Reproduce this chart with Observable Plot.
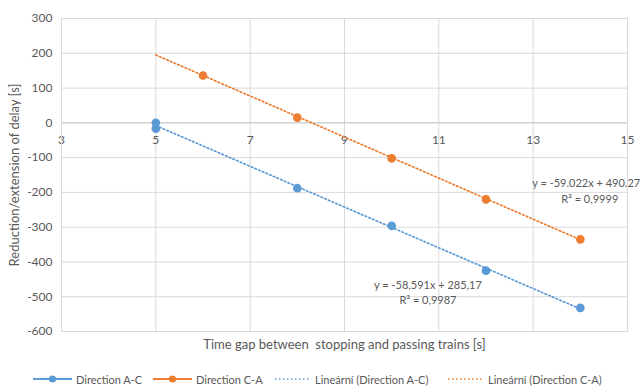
<!DOCTYPE html>
<html><head><meta charset="utf-8">
<script src="https://cdn.jsdelivr.net/npm/d3@7"></script>
<script src="https://cdn.jsdelivr.net/npm/@observablehq/plot@0.6"></script>
<style>
body{margin:0;background:#fff;font-family:Lato,"Open Sans",sans-serif;color:#595959;}
#wrap{position:relative;width:641px;height:387px;overflow:hidden;}
#chart svg{display:block;}
.li{position:absolute;top:371px;height:16px;display:flex;align-items:center;font-size:11px;white-space:nowrap;}
.li svg{margin-right:4px;}
</style></head><body>
<div id="wrap"><div id="chart"></div><div id="legend"></div></div>
<script>
// Data
const acX = [5, 5, 8, 10, 12, 14];
const acY = [0, -17, -188, -296, -425, -532];
const caX = [6, 8, 10, 12, 14];
const caY = [136, 15, -102, -220, -335];
const seriesNames = ["Direction A-C", "Direction C-A"];
const trendNames = ["Lineární (Direction A-C)", "Lineární (Direction C-A)"];
const trendSlope = [-58.591, -59.022];
const trendIntercept = [285.17, 490.27];
const trendFrom = [5, 5];
const trendTo = [14, 14];
const eqLabels = ["y = -58,591x + 285,17", "y = -59.022x + 490.27"];
const r2Labels = ["R² = 0,9987", "R² = 0,9999"];
const xTicks = [3, 5, 7, 9, 11, 13, 15];
const yTicks = [-600, -500, -400, -300, -200, -100, 0, 100, 200, 300];
const xTitle = "Time gap between  stopping and passing trains [s]";
const yTitle = "Reduction/extension of delay [s]";

const colors = ["#5b9bd5", "#ed7d31"];
const grid = "#d9d9d9";
const txt = "#595959";

const ac = acX.map((x, i) => ({x, y: acY[i]}));
const ca = caX.map((x, i) => ({x, y: caY[i]}));
const trendA = [trendFrom[0], trendTo[0]].map(x => ({x, y: trendSlope[0] * x + trendIntercept[0]}));
const trendC = [trendFrom[1], trendTo[1]].map(x => ({x, y: trendSlope[1] * x + trendIntercept[1]}));

const chart = Plot.plot({
  width: 641,
  height: 362,
  marginLeft: 61,
  marginRight: 14,
  marginTop: 18,
  marginBottom: 31,
  style: {fontFamily: "Lato, 'Open Sans', sans-serif", color: txt, background: "#fff"},
  x: {domain: [3, 15], axis: null},
  y: {domain: [-600, 300], axis: null},
  marks: [
    Plot.ruleX(xTicks, {stroke: grid, strokeWidth: 1}),
    Plot.ruleY(yTicks, {stroke: grid, strokeWidth: 1}),
    Plot.ruleY([0], {stroke: "#c8c8c8", strokeWidth: 1}),
    Plot.axisY({ticks: yTicks, tickSize: 0, tickPadding: 9, fontSize: 12, fill: txt, label: null, tickFormat: d => String(d)}),
    Plot.text(xTicks, {x: d => d, y: () => 0, dy: 17, text: d => String(d), fontSize: 12, fill: txt}),
    Plot.line(trendA, {x: "x", y: "y", stroke: colors[0], strokeWidth: 1.7, strokeDasharray: "1.5 2.5"}),
    Plot.line(trendC, {x: "x", y: "y", stroke: colors[1], strokeWidth: 1.7, strokeDasharray: "1.5 2.5"}),
    Plot.dot(ac, {x: "x", y: "y", r: 3.6, fill: colors[0], stroke: colors[0]}),
    Plot.dot(ca, {x: "x", y: "y", r: 3.6, fill: colors[1], stroke: colors[1]}),
    Plot.text([eqLabels[0]], {x: () => 10.77, y: () => -469, text: d => d, fontSize: 11, fill: txt}),
    Plot.text([r2Labels[0]], {x: () => 10.77, y: () => -512, text: d => d, fontSize: 11, fill: txt}),
    Plot.text([eqLabels[1]], {x: () => 12.98, y: () => -175, text: d => d, textAnchor: "start", fontSize: 11, fill: txt}),
    Plot.text([r2Labels[1]], {x: () => 14.2, y: () => -219, text: d => d, fontSize: 11, fill: txt}),
    Plot.text([xTitle], {frameAnchor: "bottom", dy: 13, lineAnchor: "middle", text: d => d, fontSize: 13, fill: txt}),
    Plot.text([yTitle], {frameAnchor: "left", dx: -47, rotate: -90, textAnchor: "middle", lineAnchor: "middle", text: d => d, fontSize: 13, fill: txt}),
    Plot.frame({stroke: grid})
  ]
});
document.getElementById("chart").append(chart);

// Legend
const legendItems = [
  {name: seriesNames[0], color: colors[0], dotted: false, left: 33},
  {name: seriesNames[1], color: colors[1], dotted: false, left: 153},
  {name: trendNames[0], color: colors[0], dotted: true, left: 275},
  {name: trendNames[1], color: colors[1], dotted: true, left: 448}
];
const legend = document.getElementById("legend");
for (const it of legendItems) {
  const div = document.createElement("div");
  div.className = "li";
  div.style.left = it.left + "px";
  const w = it.dotted ? 36 : 39;
  div.innerHTML = `<svg width="${w}" height="10">` +
    (it.dotted
      ? `<line x1="0" y1="5" x2="${w}" y2="5" stroke="${it.color}" stroke-width="1.7" stroke-dasharray="1.5 2.5"/>`
      : `<line x1="0" y1="5" x2="${w}" y2="5" stroke="${it.color}" stroke-width="2"/><circle cx="${w/2}" cy="5" r="3.6" fill="${it.color}"/>`) +
    `</svg><span>${it.name}</span>`;
  legend.append(div);
}
</script>
</body></html>
